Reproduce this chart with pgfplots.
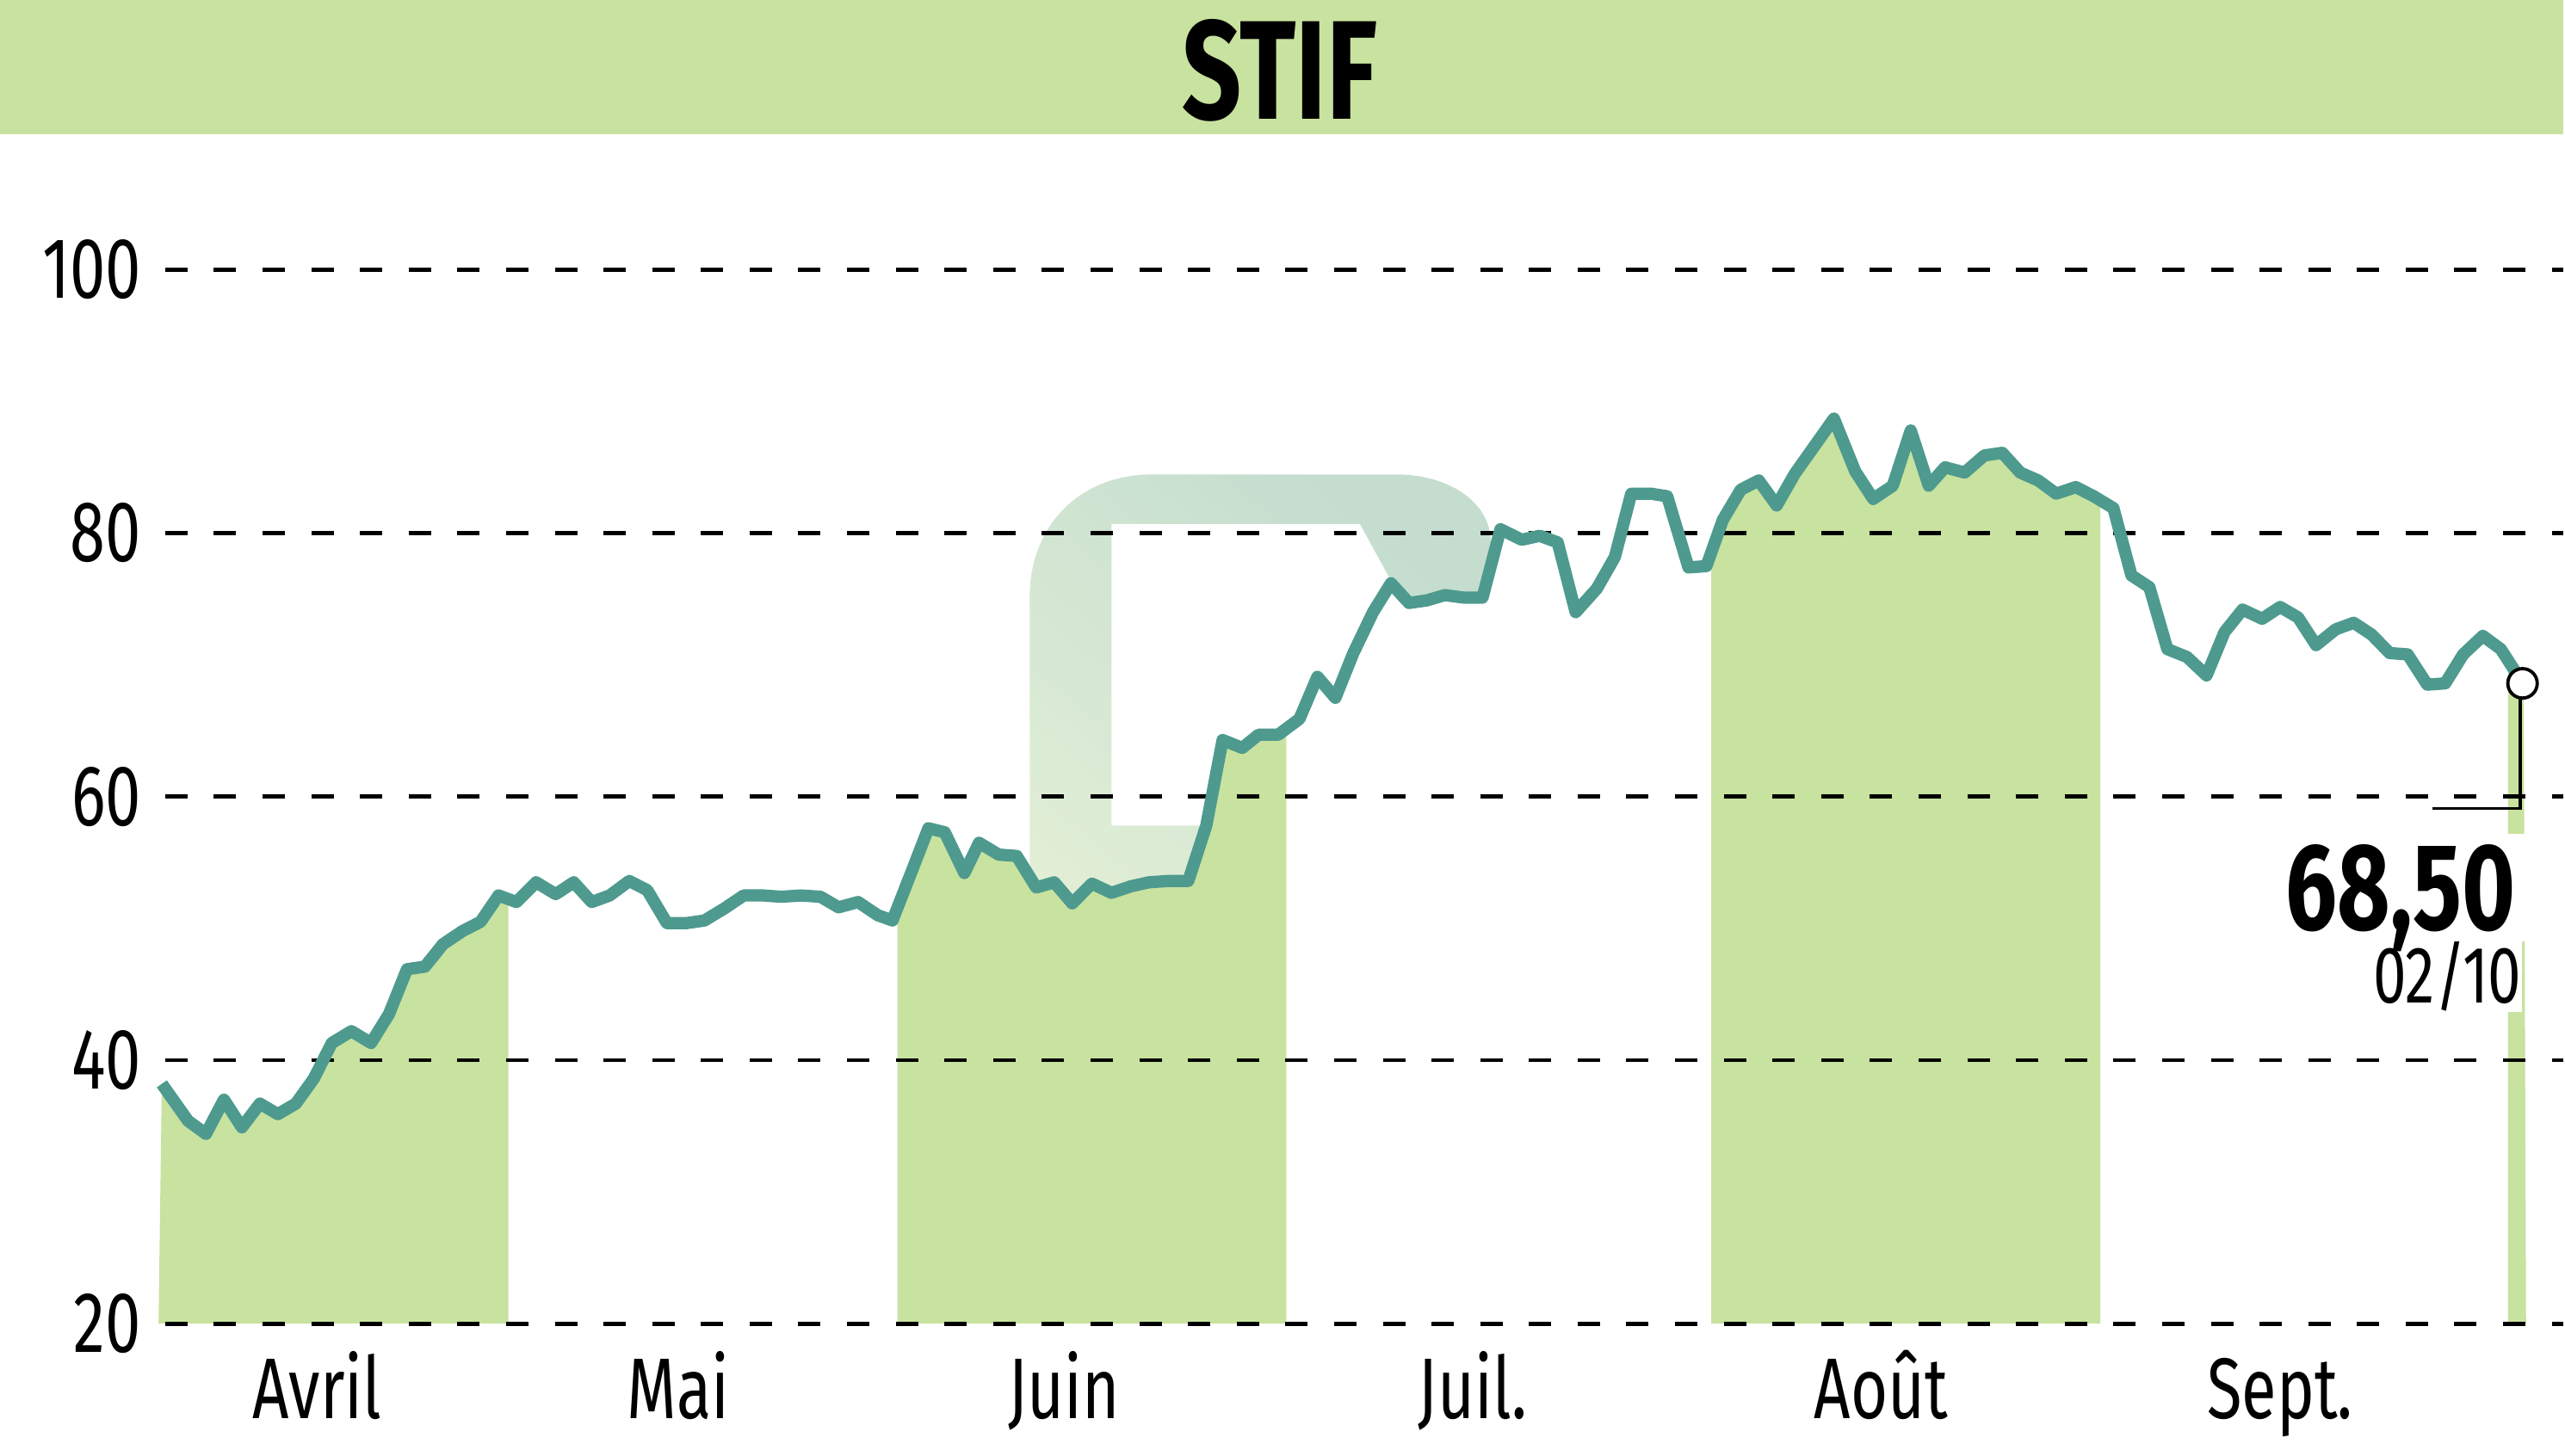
\documentclass[border=0pt]{standalone}
\usepackage{pgfplots}
\pgfplotsset{compat=1.18}
\usepackage{pgfplotstable}
\usepgfplotslibrary{fillbetween}
\usepackage{fontspec}
\setmainfont[FakeStretch=0.74]{Fira Sans}
\definecolor{bargreen}{RGB}{200,226,159}
\definecolor{priceline}{RGB}{78,154,143}
\definecolor{wmdark}{RGB}{196,221,207}
\definecolor{wmlight}{RGB}{228,240,214}

\pgfplotstableread{
x y
99 38.2
115 35.4
126 34.4
137 37.0
148 34.9
159 36.7
170 35.9
181 36.7
192 38.6
203 41.3
215 42.2
227 41.3
238 43.5
249 46.9
260 47.1
271 48.8
283 49.8
294 50.5
305 52.5
316 52.0
328 53.5
340 52.6
351 53.5
362 52.0
373 52.5
385 53.6
396 52.9
408 50.4
420 50.4
431 50.6
443 51.5
455 52.5
467 52.5
478 52.4
490 52.5
502 52.4
513 51.6
525 52.0
537 51.0
546 50.6
558 54.4
568 57.6
578 57.3
590 54.2
599 56.5
611 55.6
622 55.5
634 53.1
645 53.5
656 51.9
668 53.4
680 52.7
692 53.2
703 53.5
715 53.6
727 53.6
738 57.8
748 64.3
760 63.7
770 64.7
782 64.7
795 65.9
806 69.1
817 67.5
828 70.9
840 74.0
851 76.2
862 74.7
873 74.9
884 75.3
896 75.1
907 75.1
918 80.3
931 79.5
942 79.8
953 79.3
964 74.0
977 75.8
988 78.2
998 83.0
1010 83.0
1020 82.8
1033 77.4
1044 77.5
1054 81.0
1065 83.3
1076 84.0
1087 82.1
1098 84.5
1110 86.6
1122 88.7
1135 84.7
1146 82.6
1158 83.6
1169 87.8
1180 83.6
1190 85.0
1202 84.6
1214 85.9
1225 86.1
1236 84.6
1247 84.0
1258 83.0
1270 83.5
1281 82.8
1293 81.9
1304 76.8
1315 75.9
1326 71.2
1338 70.6
1350 69.2
1361 72.5
1372 74.2
1384 73.5
1395 74.4
1406 73.6
1417 71.5
1429 72.7
1440 73.2
1451 72.3
1462 70.9
1473 70.8
1485 68.5
1496 68.6
1507 70.8
1519 72.2
1530 71.2
1544 68.5
}\pricedata

\pgfplotsset{chartframe/.style={
  at={(0.97cm,0.81cm)}, anchor=south west, scale only axis,
  width=14.71cm, height=6.45cm,
  xmin=97, xmax=1568, ymin=20, ymax=100, clip=false}}

\begin{document}
\begin{tikzpicture}[x=1cm,y=1cm]
\fill[bargreen] (0,8.09) rectangle (15.68,8.91);
\node[font=\fontsize{24.5}{28}\selectfont\bfseries, inner sep=0pt] at (7.83,8.48) {STIF};
% faint watermark logo (decoration), drawn underneath the chart
\begin{axis}[chartframe, hide axis]
\path[even odd rule, top color=wmdark, bottom color=wmlight, shading angle=-40]
  (axis cs:630,40) -- (axis cs:630,75.2)
  .. controls (axis cs:630,80.5) and (axis cs:660,84.46) .. (axis cs:705,84.46)
  -- (axis cs:854,84.46)
  .. controls (axis cs:885,84.46) and (axis cs:911,82.5) .. (axis cs:912,79.5)
  -- (axis cs:912,40) -- cycle
  (axis cs:680,57.8) -- (axis cs:680,80.7) -- (axis cs:832,80.7)
  -- (axis cs:851,76.4) -- (axis cs:851,57.8) -- cycle;
\end{axis}
\begin{axis}[chartframe,
  axis line style={draw=none}, major tick length=0pt,
  ytick={20,40,60,80,100},
  xtick={194,415,651,901,1151,1395},
  xticklabels={Avril,Mai,Juin,Juil.,Août,Sept.},
  tick label style={font=\fontsize{15}{18}\selectfont, inner sep=0pt},
  yticklabel style={anchor=east, xshift=-1mm},
  xticklabel style={anchor=base, yshift=-5.8mm},
  /pgf/number format/assume math mode=true,
]
\addplot[draw=none, name path=price, forget plot] table {\pricedata};
\addplot[draw=none, name path=base, forget plot] coordinates {(97,20)(1568,20)};
\addplot[white, draw=none] fill between[of=price and base, on layer=main];
\addplot[bargreen, draw=none] fill between[of=price and base, soft clip={domain=97:311}, on layer=main];
\addplot[bargreen, draw=none] fill between[of=price and base, soft clip={domain=549:787}, on layer=main];
\addplot[bargreen, draw=none] fill between[of=price and base, soft clip={domain=1047:1285}, on layer=main];
\addplot[bargreen, draw=none] fill between[of=price and base, soft clip={domain=1534.5:1545.5}, on layer=main];
\pgfplotsinvokeforeach{20,40,60,80,100}{
  \addplot[black, line width=0.26mm, dash pattern=on 1.37mm off 1.61mm] coordinates {(101,#1)(1568,#1)};
}
\addplot[priceline, line width=0.75mm, line join=round] table {\pricedata};
\addplot[black, line width=0.18mm] coordinates {(1542,68.5)(1542,59.1)(1488,59.1)};
\addplot[only marks, mark=*, mark size=0.9mm, mark options={fill=white, draw=black, line width=0.2mm}] coordinates {(1543.3,68.6)};
\node[anchor=base east, font=\fontsize{14}{17}\selectfont, fill=white, inner xsep=0pt, inner ysep=0pt] at (axis cs:1543.4,44.32) {02/10};
\node[anchor=base east, font=\fontsize{21.5}{24}\selectfont\bfseries, inner xsep=0.6mm, inner ysep=0.7mm, text depth=0pt, fill=white] at (axis cs:1546,49.87) {68,50};
\end{axis}
\useasboundingbox (0,0) rectangle (15.68,8.91);
\end{tikzpicture}
\end{document}
